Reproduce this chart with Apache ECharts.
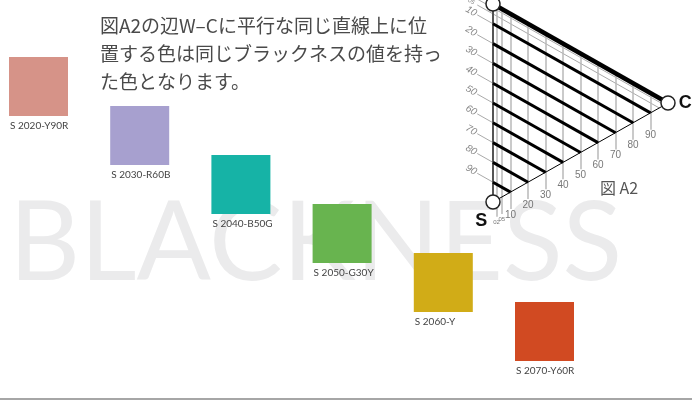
<!DOCTYPE html>
<html><head><meta charset="utf-8">
<script src="https://cdn.jsdelivr.net/npm/echarts@6/dist/echarts.min.js"></script>
<style>html,body{margin:0;padding:0;background:#fff}#c{width:692px;height:410px}</style>
</head><body><div id="c"></div>
<script>
// Swatches
const swatchNames = ['S 2020-Y90R','S 2030-R60B','S 2040-B50G','S 2050-G30Y','S 2060-Y','S 2070-Y60R'];
const swatchChromaticness = [20,30,40,50,60,70];
const swatchColors = ['#D69388','#A7A0CF','#16B3A6','#68B44F','#D1AC17','#D14A22'];
// NCS triangle
const blacknessLevels = [10,20,30,40,50,60,70,80,90];
const fineLevels = [2,5];
const chromaticnessLevels = [2,5,10,20,30,40,50,60,70,80,90];
const blacknessTickLabels = ['02','05','10','20','30','40','50','60','70','80','90'];
const chromaticnessTickLabels = ['02','05','10','20','30','40','50','60','70','80','90'];
const vertexNames = ['W','S','C'];
const headline = '図A2の辺W–Cに平行な同じ直線上に位\n置する色は同じブラックネスの値を持っ\nた色となります。';

// ternary (blackness s, chromaticness c) -> triangle axes
function tern(s, c) { return [c, s + c / 2]; }

const allBlack = fineLevels.concat(blacknessLevels);

const grayDiag = allBlack.map(s => ({coords: [tern(s, -9), tern(s, 100 - s)]}));
const grayVert = chromaticnessLevels.map(c => {
  const b = tern(100 - c, c);
  return {coords: [tern(0, c), [b[0], b[1] + 8.5]]};
});
const blackDiag = blacknessLevels.map(s => ({coords: [tern(s, 0), tern(s, 100 - s)]}));

const bLabelData = blacknessTickLabels.map((t, i) => {
  const p = tern(allBlack[i], -12.5);
  return {value: p, name: t, small: i < 2};
});
const cLabelData = chromaticnessTickLabels.map((t, i) => {
  const c = chromaticnessLevels[i];
  const b = tern(100 - c, c);
  return {value: [b[0], b[1] + 11.5], name: t, small: i < 2};
});

const chart = echarts.init(document.getElementById('c'));
chart.setOption({
  animation: false,
  backgroundColor: '#fff',
  title: {
    text: headline, left: 95, top: 7,
    textStyle: {fontSize: 19, lineHeight: 28, fontWeight: 'normal', color: '#4a4a4a', fontFamily: 'Noto Sans CJK JP'}
  },
  graphic: [
    {type: 'text', z: -10, zlevel: 0, style: {x: 9, y: 245, text: 'BLACKNESS', textVerticalAlign: 'middle',
      font: '400 110px Lato', fill: '#ebebec'}},
    {type: 'text', style: {x: 600, y: 188, text: '図 A2', textVerticalAlign: 'middle',
      font: '16px "Noto Sans CJK JP"', fill: '#555'}},
    {type: 'line', shape: {x1: 0, y1: 399, x2: 692, y2: 399}, style: {stroke: '#888', lineWidth: 1.5}}
  ],
  grid: [
    {left: 38.5, top: 86.5, width: 506, height: 245},
    {left: 493, top: 4, width: 175, height: 198}
  ],
  xAxis: [
    {type: 'value', min: 20, max: 70, show: false, gridIndex: 0},
    {type: 'value', min: 0, max: 100, show: false, gridIndex: 1}
  ],
  yAxis: [
    {type: 'value', min: 20, max: 70, inverse: true, show: false, gridIndex: 0},
    {type: 'value', min: 0, max: 100, inverse: true, show: false, gridIndex: 1}
  ],
  series: [
    {
      type: 'scatter', xAxisIndex: 0, yAxisIndex: 0, symbol: 'rect', symbolSize: 59, z: 5,
      data: swatchNames.map((n, i) => ({name: n, value: [swatchChromaticness[i], swatchChromaticness[i]],
        itemStyle: {color: swatchColors[i], opacity: 1}})),
      label: {show: true, formatter: p => p.name, position: [1, 64], align: 'left', verticalAlign: 'top',
        fontSize: 10, color: '#444', fontFamily: 'Lato'}
    },
    {type: 'lines', coordinateSystem: 'cartesian2d', xAxisIndex: 1, yAxisIndex: 1, clip: false, z: 2,
      lineStyle: {color: '#aaa', width: 1, opacity: 1}, data: grayDiag},
    {type: 'lines', coordinateSystem: 'cartesian2d', xAxisIndex: 1, yAxisIndex: 1, clip: false, z: 2,
      lineStyle: {color: '#b8b8b8', width: 1.5, opacity: 1}, data: grayVert},
    {type: 'lines', coordinateSystem: 'cartesian2d', xAxisIndex: 1, yAxisIndex: 1, clip: false, z: 3,
      lineStyle: {color: '#555', width: 2, opacity: 1}, data: [{coords: [tern(0, 0), tern(100, 0)]}]},
    {type: 'lines', coordinateSystem: 'cartesian2d', xAxisIndex: 1, yAxisIndex: 1, clip: false, z: 3,
      lineStyle: {color: '#000', width: 3, opacity: 1}, data: blackDiag},
    {type: 'lines', coordinateSystem: 'cartesian2d', xAxisIndex: 1, yAxisIndex: 1, clip: false, z: 3,
      lineStyle: {color: '#000', width: 4.5, opacity: 1}, data: [{coords: [tern(0, 0), tern(0, 100)]}]},
    {type: 'lines', coordinateSystem: 'cartesian2d', xAxisIndex: 1, yAxisIndex: 1, clip: false, z: 3,
      lineStyle: {color: '#000', width: 1, opacity: 1}, data: [{coords: [tern(100, 0), tern(0, 100)]}]},
    {
      type: 'scatter', xAxisIndex: 1, yAxisIndex: 1, symbol: 'circle', symbolSize: 14, z: 6, clip: false,
      itemStyle: {color: '#fff', borderColor: '#222', borderWidth: 1.5, opacity: 1},
      data: [
        {name: vertexNames[0], value: tern(0, 0), label: {show: false}},
        {name: vertexNames[1], value: tern(100, 0), label: {show: true, position: [-10, 18]}},
        {name: vertexNames[2], value: tern(0, 100), label: {show: true, position: 'right', distance: 3}}
      ],
      label: {formatter: p => p.name, fontSize: 18, fontWeight: 'bold', color: '#111', fontFamily: 'Liberation Sans'}
    },
    {
      type: 'scatter', xAxisIndex: 1, yAxisIndex: 1, symbolSize: 0, z: 6, clip: false, silent: true,
      data: bLabelData.map(d => ({value: d.value, name: d.name,
        label: {fontSize: d.small ? 6 : 10}})),
      label: {show: true, position: 'inside', formatter: p => p.name, rotate: -30, fontStyle: 'italic',
        color: '#666', fontFamily: 'Liberation Sans'}
    },
    {
      type: 'scatter', xAxisIndex: 1, yAxisIndex: 1, symbolSize: 0, z: 6, clip: false, silent: true,
      data: cLabelData.map(d => ({value: d.value, name: d.name,
        label: {fontSize: d.small ? 6 : 10}})),
      label: {show: true, position: 'inside', formatter: p => p.name, color: '#555', fontFamily: 'Liberation Sans'}
    }
  ]
});
</script></body></html>
